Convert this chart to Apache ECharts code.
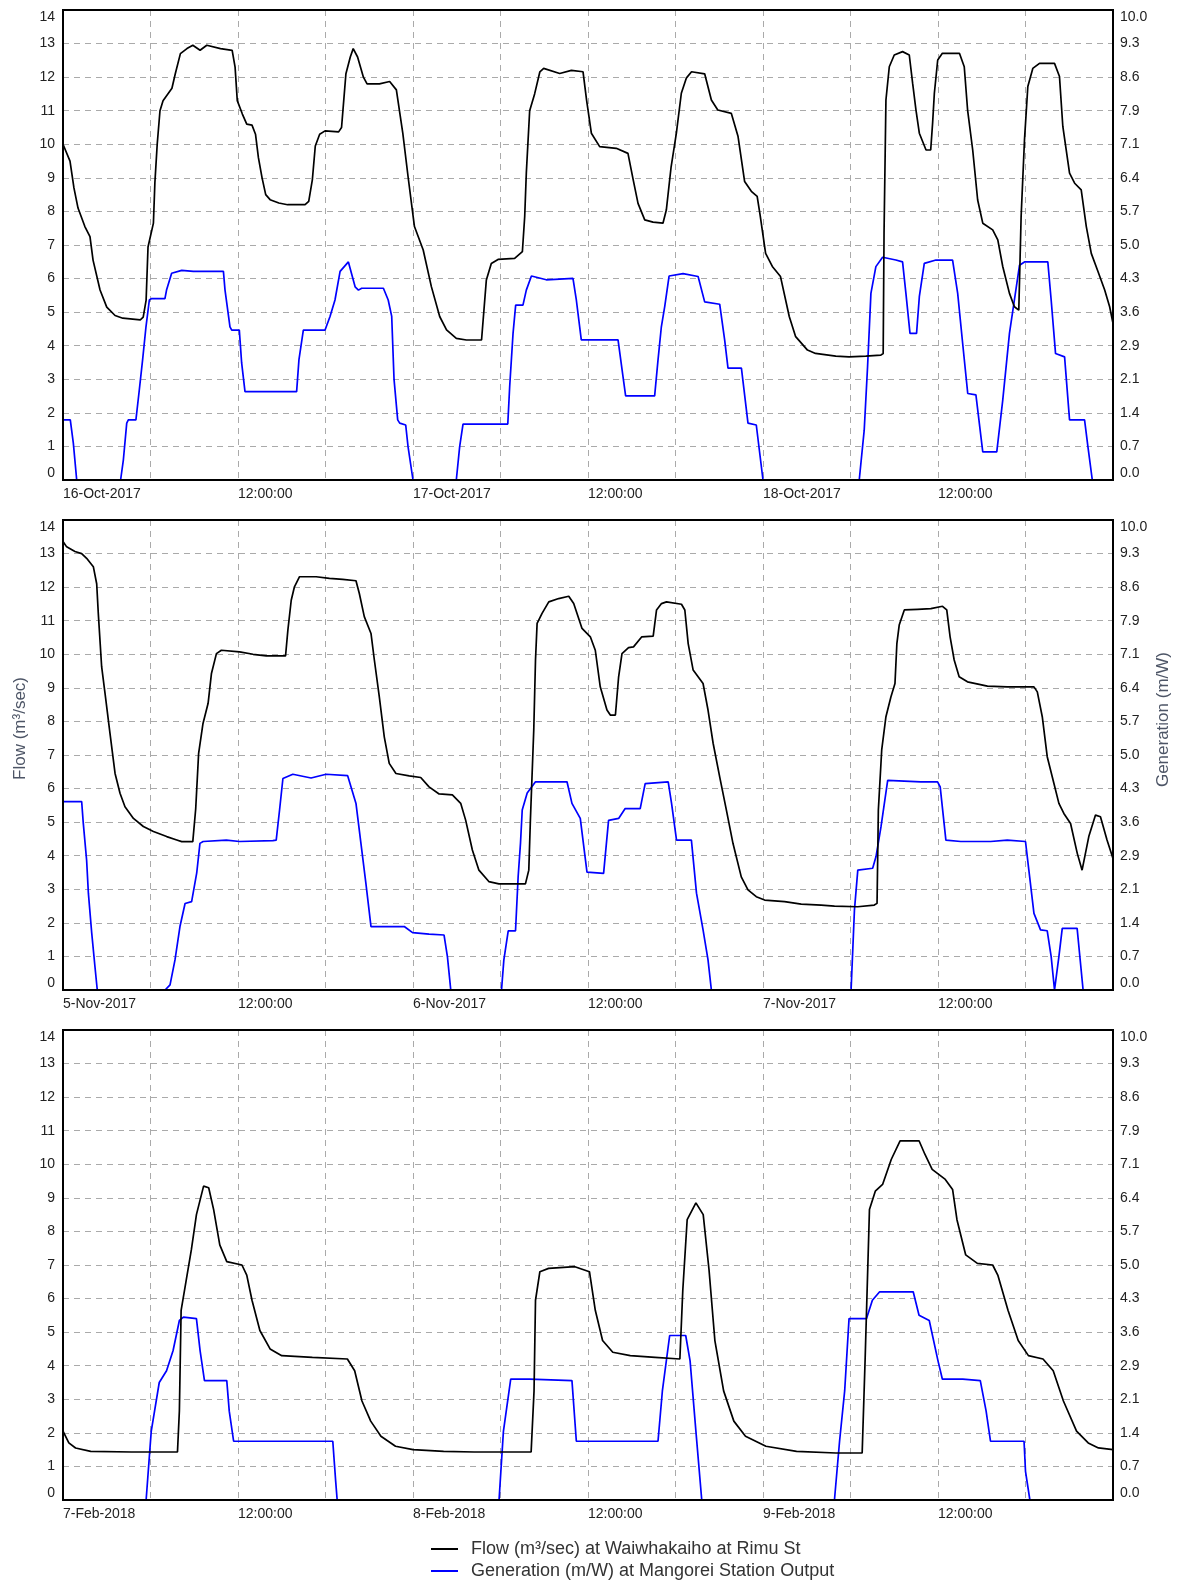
<!DOCTYPE html>
<html>
<head>
<meta charset="utf-8">
<script src="https://cdn.jsdelivr.net/npm/echarts@6/dist/echarts.min.js"></script>
<style>
  html, body { margin: 0; padding: 0; background: #fff; }
  #main { width: 1178px; height: 1580px; }
</style>
</head>
<body>
<div id="main"></div>
<script>
// hours since midnight of first day
var p1Dates = ['16-Oct-2017', '17-Oct-2017', '18-Oct-2017'];
var p2Dates = ['5-Nov-2017', '6-Nov-2017', '7-Nov-2017'];
var p3Dates = ['7-Feb-2018', '8-Feb-2018', '9-Feb-2018'];

var p1FlowHours = [0,0.48,0.75,1.03,1.5,1.85,2.06,2.54,3,3.57,4.1,5.3,5.5,5.7,5.83,6.2,6.3,6.46,6.65,6.86,7.47,7.7,8.05,8.5,8.9,9.4,9.86,10.8,11.6,11.8,11.95,12.3,12.6,12.96,13.2,13.4,13.65,13.9,14.2,14.8,15.4,16.6,16.85,17.1,17.3,17.6,17.97,18.9,19.1,19.25,19.4,19.7,19.9,20.2,20.6,20.85,21.7,22.4,22.86,23.3,23.66,24.1,24.7,25.26,25.83,26.3,26.97,27.66,28.7,29.03,29.37,29.83,30.97,31.5,31.66,31.77,32,32.34,32.7,32.96,34.06,34.86,35.66,35.9,36.23,36.8,37.94,38.74,39.1,39.43,39.89,40.46,41.14,41.37,41.7,42.06,42.4,42.74,43.1,44,44.46,44.9,45.83,46.29,46.74,47.2,47.6,47.8,48.18,48.64,49.2,49.8,50.24,51.05,51.6,52.99,53.9,55.05,56.08,56.24,56.3,56.43,56.66,57,57.57,58.03,58.26,58.49,58.72,59.18,59.5,59.63,59.75,59.98,60.3,61.47,61.8,62.03,62.38,62.72,63.07,63.75,64.1,64.44,64.9,65.24,65.54,65.7,65.93,66.16,66.5,66.96,67.99,68.33,68.56,69.02,69.37,69.82,70.17,70.51,70.97,71.43,71.77,72];
var p1Flow = [10,9.5,8.7,8.1,7.55,7.25,6.55,5.66,5.15,4.9,4.82,4.77,4.85,5.36,6.94,7.65,8.85,10,11,11.3,11.67,12.1,12.7,12.85,12.95,12.8,12.95,12.85,12.8,12.3,11.3,10.9,10.6,10.57,10.3,9.6,9,8.5,8.35,8.25,8.2,8.2,8.3,8.95,9.95,10.3,10.4,10.37,10.5,11.3,12.1,12.6,12.85,12.6,12,11.8,11.8,11.87,11.62,10.33,9.04,7.55,6.85,5.76,4.87,4.47,4.22,4.17,4.17,5.96,6.45,6.57,6.6,6.8,7.85,9.14,11,11.5,12.16,12.26,12.11,12.2,12.16,11.32,10.33,9.93,9.88,9.73,8.94,8.24,7.75,7.68,7.65,8.04,9.33,10.33,11.52,11.97,12.16,12.1,11.32,11.02,10.92,10.23,8.89,8.6,8.45,7.9,6.75,6.36,6.06,4.87,4.27,3.87,3.77,3.69,3.67,3.69,3.72,3.77,7.35,11.32,12.31,12.66,12.76,12.66,11.82,11.02,10.33,9.83,9.83,10.63,11.52,12.51,12.71,12.71,12.31,11.02,9.83,8.34,7.65,7.45,7.15,6.36,5.56,5.16,5.06,7.85,10.13,11.72,12.26,12.41,12.41,12.02,10.53,9.14,8.84,8.64,7.55,6.75,6.21,5.66,5.16,4.67];
var p1GenHours = [0,0.5,0.71,0.94,3.95,4.14,4.37,4.48,5,5.23,5.46,5.69,5.92,6.08,6.99,7.1,7.45,8.14,8.94,11,11.11,11.45,11.57,12.09,12.25,12.48,16.02,16.18,16.48,17.97,18.31,18.65,19,19.57,20.03,20.26,20.48,21.97,22.3,22.54,22.7,22.95,23.09,23.5,23.66,24,26.97,27.2,27.43,30.5,30.63,30.86,31.04,31.54,31.77,32.12,33.14,34.97,35.2,35.54,38.06,38.4,38.58,40.57,40.8,41.03,41.26,41.56,42.52,43.55,44,45.03,45.37,45.6,46.52,46.97,47.54,48,54.6,54.94,55.17,55.4,55.74,56.2,57.11,57.57,57.8,58.08,58.53,58.72,59.06,59.86,61,61.35,61.69,62.04,62.6,63.07,64.03,64.44,64.9,65.24,65.59,65.93,67.53,67.76,68.06,68.68,69.02,70.05,70.28,70.58,72];
var p1Gen = [1.28,1.28,0.78,0,0,0.43,1.21,1.28,1.28,1.91,2.56,3.26,3.83,3.86,3.86,4.04,4.4,4.46,4.44,4.44,4.04,3.26,3.19,3.19,2.49,1.88,1.88,2.56,3.19,3.19,3.48,3.83,4.44,4.64,4.11,4.04,4.08,4.08,3.83,3.48,2.14,1.28,1.21,1.17,0.71,0,0,0.71,1.19,1.19,1.99,3.12,3.72,3.72,4.04,4.34,4.26,4.29,3.83,2.98,2.98,2.2,1.79,1.79,2.55,3.26,3.69,4.34,4.39,4.33,3.79,3.74,2.98,2.38,2.38,1.21,1.17,0,0,1.06,2.41,3.97,4.54,4.74,4.68,4.64,3.97,3.12,3.12,3.9,4.61,4.68,4.68,3.97,2.91,1.84,1.81,0.6,0.6,1.7,3.12,3.83,4.57,4.64,4.64,3.83,2.69,2.62,1.28,1.28,0.71,0,0];

var p2FlowHours = [0,0.25,0.82,1.28,1.62,2.08,2.31,2.42,2.65,2.88,3.22,3.57,3.91,4.25,4.83,5.51,6.2,7.11,7.8,8.14,8.9,9.1,9.3,9.6,9.95,10.18,10.52,10.86,12.11,13.03,13.94,15.26,15.42,15.65,15.87,16.22,17.36,18.27,19.18,20.09,20.32,20.66,21.12,21.35,21.69,22.03,22.37,22.83,23.74,24.53,25.1,25.79,26.7,27.27,27.61,28.07,28.52,29.2,29.89,31.71,31.94,32.05,32.28,32.4,32.51,32.85,33.31,33.99,34.68,35.02,35.59,36.16,36.5,36.84,37.3,37.53,37.88,38.1,38.33,38.78,39.12,39.69,40.47,40.7,41.04,41.38,42.41,42.64,42.87,43.21,43.89,44.23,44.58,45.03,45.49,45.94,46.51,46.97,47.54,48.11,49.48,50.62,51.99,52.9,54.49,55.63,55.82,55.91,56.14,56.43,56.77,57.05,57.18,57.34,57.69,58.6,59.51,60.31,60.6,60.83,61.11,61.45,62.02,63.39,64.75,66.58,66.81,67.15,67.49,67.95,68.29,68.63,69.09,69.55,69.88,70.34,70.8,71.14,71.59,72];
var p2Flow = [13.36,13.2,13.06,13,12.86,12.61,12.1,11.22,9.63,8.84,7.65,6.45,5.86,5.46,5.11,4.87,4.72,4.57,4.47,4.42,4.42,5.4,7.05,7.94,8.54,9.43,10.02,10.12,10.07,10,9.95,9.95,10.72,11.61,12.01,12.31,12.31,12.26,12.23,12.19,11.81,11.12,10.62,9.83,8.73,7.54,6.75,6.45,6.38,6.33,6.05,5.84,5.81,5.56,5.06,4.17,3.57,3.23,3.16,3.16,3.57,5.06,7.74,9.83,10.92,11.22,11.56,11.66,11.73,11.51,10.77,10.52,10.12,9.03,8.34,8.19,8.19,9.33,10.02,10.2,10.22,10.52,10.54,11.32,11.51,11.56,11.49,11.32,10.32,9.53,9.13,8.34,7.35,6.35,5.36,4.37,3.37,2.98,2.78,2.68,2.63,2.56,2.53,2.5,2.48,2.53,2.58,5.36,7.15,8.14,8.73,9.13,10.32,10.87,11.32,11.34,11.36,11.43,11.32,10.52,9.83,9.33,9.18,9.05,9.03,9.03,8.88,8.14,6.95,6.15,5.56,5.26,4.96,4.07,3.57,4.57,5.21,5.16,4.47,3.92];
var p2GenHours = [0,1.28,1.39,1.62,1.74,1.97,2.19,2.35,7,7.34,7.68,8.02,8.37,8.82,9.17,9.39,9.61,11.2,12.11,14.39,14.62,14.85,15.08,15.76,17.01,18.04,19.52,19.63,20.09,20.43,20.77,21.12,23.4,23.97,25.1,26.13,26.36,26.59,30.07,30.23,30.53,31.03,31.21,31.37,31.49,31.83,32.4,34.56,34.9,35.47,35.93,37.07,37.41,38.1,38.55,39.58,39.92,41.5,41.73,42.07,43.09,43.44,43.89,44.23,44.46,54.04,54.27,54.5,55.52,55.75,56.09,56.55,58.83,59.97,60.15,60.54,61.56,63.61,64.75,66,66.23,66.58,67.03,67.49,67.76,67.99,68.29,68.52,69.54,69.95,72];
var p2Gen = [4.01,4.01,3.55,2.76,2.06,1.21,0.5,0,0,0.11,0.64,1.35,1.84,1.88,2.49,3.12,3.16,3.19,3.16,3.18,3.19,3.83,4.5,4.59,4.51,4.59,4.56,4.54,3.97,3.12,2.27,1.35,1.35,1.22,1.19,1.17,0.71,0,0,0.64,1.26,1.26,2.41,3.12,3.83,4.19,4.43,4.43,3.97,3.65,2.51,2.48,3.61,3.65,3.86,3.86,4.39,4.43,3.97,3.19,3.19,2.06,1.28,0.64,0,0,1.7,2.55,2.59,2.84,3.47,4.46,4.43,4.43,4.32,3.19,3.16,3.16,3.19,3.16,2.55,1.63,1.28,1.26,0.71,0,0.71,1.31,1.31,0,0];

var p3FlowHours = [0,0.4,0.86,1.9,4.7,7.85,7.98,8.1,8.45,8.8,9.15,9.64,9.99,10.33,10.75,11.23,12.27,12.6,12.96,13.5,14.2,15,17.1,19.5,20,20.5,21.1,21.8,22.8,24,26.1,28.2,32.1,32.3,32.4,32.7,33.3,35.1,36.1,36.5,37,37.7,38.9,40.6,42.3,42.5,42.8,43.4,43.9,44.3,44.7,45.3,46,46.8,48.2,50.3,53,54.8,55,55.3,55.7,56.2,56.8,57.4,58.7,59.1,59.6,60.5,61,61.3,61.9,62.7,63.75,64.1,64.8,65.5,66.2,67.2,67.9,68.6,69.5,70.3,71,72];
var p3Flow = [2.05,1.7,1.55,1.45,1.43,1.43,2.65,5.65,6.55,7.45,8.5,9.35,9.3,8.65,7.6,7.1,7,6.7,5.95,5.05,4.5,4.3,4.25,4.2,3.85,2.95,2.35,1.9,1.6,1.5,1.45,1.43,1.43,3.25,5.95,6.8,6.9,6.95,6.8,5.65,4.75,4.4,4.3,4.25,4.2,6.25,8.35,8.85,8.5,6.85,4.75,3.25,2.35,1.9,1.6,1.45,1.4,1.4,4.15,8.65,9.2,9.4,10.15,10.7,10.7,10.3,9.85,9.55,9.25,8.35,7.3,7.05,7,6.7,5.65,4.75,4.3,4.2,3.85,2.95,2.05,1.7,1.55,1.5];
var p3GenHours = [0,5.7,6.05,6.6,7.1,7.55,7.98,8.26,9.15,9.4,9.7,11.23,11.4,11.7,18.5,18.7,18.8,29.9,30.2,30.7,32,34.9,35.2,40.8,41.1,41.6,42.7,43,43.4,43.8,52.9,53.25,53.6,53.9,55.1,55.5,56,58.3,58.7,59.4,60,60.3,61.7,62.9,63.3,63.6,65.9,66,66.3,72];
var p3Gen = [0,0,1.46,2.5,2.75,3.18,3.82,3.89,3.86,3.18,2.54,2.54,1.89,1.25,1.25,0.39,0,0,1.46,2.57,2.57,2.54,1.25,1.25,2.32,3.5,3.5,2.96,1.46,0,0,1.25,2.32,3.86,3.86,4.25,4.43,4.43,3.93,3.82,2.96,2.57,2.57,2.54,1.89,1.25,1.25,0.61,0,0];

var flowName = 'Flow (m³/sec) at Waiwhakaiho at Rimu St';
var genName = 'Generation (m/W) at Mangorei Station Output';
var genMax = 10, flowMax = 14;

function zip(xs, ys) {
  return xs.map(function (x, i) { return [x, ys[i]]; });
}

var panels = [
  {dates: p1Dates, flow: zip(p1FlowHours, p1Flow), gen: zip(p1GenHours, p1Gen)},
  {dates: p2Dates, flow: zip(p2FlowHours, p2Flow), gen: zip(p2GenHours, p2Gen)},
  {dates: p3Dates, flow: zip(p3FlowHours, p3Flow), gen: zip(p3GenHours, p3Gen)}
];

var font = "'Liberation Sans', Arial, sans-serif";
var dashed = {show: true, lineStyle: {color: '#aaaaaa', width: 1, type: [6, 5]}};
var grids = [], xAxes = [], yAxes = [], series = [];

panels.forEach(function (p, i) {
  grids.push({left: 63, width: 1050, top: 10 + i * 510, height: 470, z: 5,
    show: true, borderColor: '#000', borderWidth: 2, backgroundColor: 'rgba(0,0,0,0)'});
  xAxes.push({
    type: 'value', gridIndex: i, min: 0, max: 72, interval: 6,
    axisLine: {show: false}, axisTick: {show: false},
    splitLine: dashed,
    axisLabel: {
      show: true, showMaxLabel: false, align: 'left', margin: 7,
      color: '#222', fontFamily: font, fontSize: 14,
      formatter: function (v) {
        if (v % 24 === 0) return p.dates[v / 24] || '';
        if (v % 12 === 0) return '12:00:00';
        return '';
      }
    }
  });
  var base = yAxes.length;
  // left flow axis
  yAxes.push({
    type: 'value', gridIndex: i, min: 0, max: flowMax, interval: 1, position: 'left',
    axisLine: {show: false}, axisTick: {show: false},
    splitLine: dashed,
    axisLabel: {color: '#222', fontFamily: font, fontSize: 14, margin: 8,
      verticalAlignMinLabel: 'bottom', verticalAlignMaxLabel: 'top'}
  });
  // right tick labels: same 14 steps, shown in generation units
  yAxes.push({
    type: 'value', gridIndex: i, min: 0, max: flowMax, interval: 1, position: 'right',
    axisLine: {show: false}, axisTick: {show: false}, splitLine: {show: false},
    axisLabel: {color: '#222', fontFamily: font, fontSize: 14, margin: 7,
      verticalAlignMinLabel: 'bottom', verticalAlignMaxLabel: 'top',
      formatter: function (v) { return (v * genMax / flowMax).toFixed(1); }}
  });
  // generation scale used by the blue line
  yAxes.push({
    type: 'value', gridIndex: i, min: 0, max: genMax, position: 'right', show: false
  });
  series.push({
    name: flowName, type: 'line', xAxisIndex: i, yAxisIndex: base,
    data: p.flow, symbol: 'none', color: '#000',
    lineStyle: {color: '#000', width: 1.7}, z: 3
  });
  series.push({
    name: genName, type: 'line', xAxisIndex: i, yAxisIndex: base + 2,
    data: p.gen, symbol: 'none', color: '#0000ff',
    lineStyle: {color: '#0000ff', width: 1.7}, z: 2
  });
});

var myChart = echarts.init(document.getElementById('main'), null, {renderer: 'canvas'});
var option = {
  animation: false,
  backgroundColor: '#fff',
  grid: grids,
  xAxis: xAxes,
  yAxis: yAxes,
  series: series,
  legend: {
    orient: 'vertical', left: 431, top: 1540, height: 60, padding: 0, itemGap: 4,
    icon: 'rect', itemWidth: 27, itemHeight: 2,
    textStyle: {color: '#333', fontFamily: font, fontSize: 18, padding: [0, 0, 0, 8]},
    data: [flowName, genName]
  },
  graphic: [
    {type: 'text', left: 12, top: 677, rotation: Math.PI / 2,
      style: {text: 'Flow (m³/sec)', fill: '#4d5566', font: '17px ' + font}},
    {type: 'text', left: 1155, top: 652, rotation: Math.PI / 2,
      style: {text: 'Generation (m/W)', fill: '#4d5566', font: '17px ' + font}}
  ]
};
myChart.setOption(option);
</script>
</body>
</html>
